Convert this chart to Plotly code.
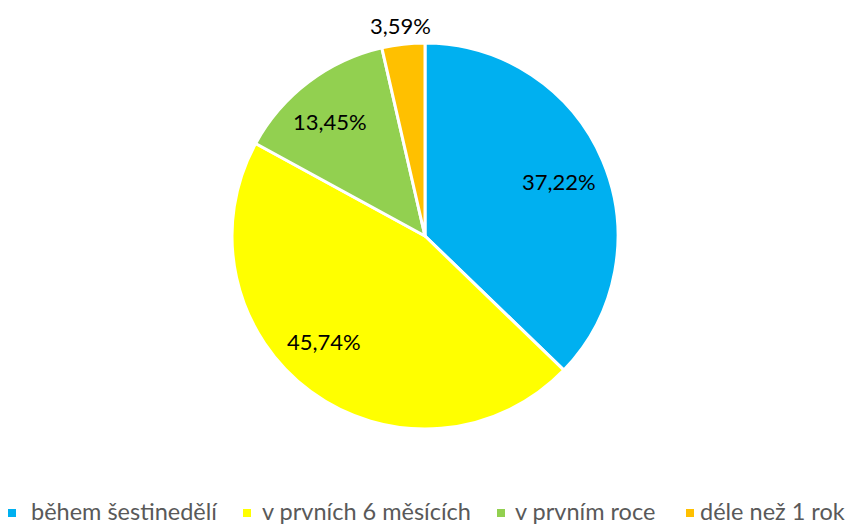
import math
import plotly.graph_objects as go

# Data
categories = ["během šestinedělí", "v prvních 6 měsících", "v prvním roce", "déle než 1 rok"]
values = [37.22, 45.74, 13.45, 3.59]
labels_text = ["37,22%", "45,74%", "13,45%", "3,59%"]
colors = ["#00B0F0", "#FFFF00", "#92D050", "#FFC000"]

# label placement (Excel "best fit"): radius as fraction of R, angular nudge in degrees
label_radius = [0.75, 0.755, 0.775, 1.105]
label_shift = [0.4, 7.7, -2.3, 0.0]

W, H = 854, 527
OFF = 8  # page body margin shifts the figure by 8px
FONT = "Lato, Calibri, sans-serif"

# pie geometry in layout pixels
cx, cy, R = 425 - OFF, 236 - OFF, 193

# Excel-style legend row (window px)
swatch_x = [8, 243, 497, 686]
text_x = [31, 262, 515, 700]
legend_y = 511
SW = 8


def px_to_paper(x, y):
    return x / W, 1 - y / H


fig = go.Figure()
fig.add_trace(go.Pie(
    labels=categories,
    values=values,
    textinfo="none",
    marker=dict(colors=colors, line=dict(color="white", width=3)),
    sort=False,
    direction="clockwise",
    rotation=0,
    domain=dict(x=[(cx - R) / W, (cx + R) / W], y=[(H - cy - R) / H, (H - cy + R) / H]),
    hoverinfo="label+percent",
    showlegend=False,
))

# data labels around the middle angle of each slice
total = sum(values)
cum = 0.0
for v, txt, rf, sh in zip(values, labels_text, label_radius, label_shift):
    mid = (cum + v / 2) / total * 2 * math.pi + math.radians(sh)
    cum += v
    ax, ay = px_to_paper(cx + rf * R * math.sin(mid), cy - rf * R * math.cos(mid) + 1)
    fig.add_annotation(
        x=ax, y=ay, xref="paper", yref="paper",
        xanchor="center", yanchor="middle",
        text=txt, showarrow=False,
        font=dict(family=FONT, size=22, color="black"),
    )

# legend: coloured square + label
for name, col, sx, tx in zip(categories, colors, swatch_x, text_x):
    x0, y0 = px_to_paper(sx - OFF, legend_y + 2 - OFF - SW / 2)
    x1, y1 = px_to_paper(sx - OFF + SW, legend_y + 2 - OFF + SW / 2)
    fig.add_shape(type="rect", xref="paper", yref="paper",
                  x0=x0, x1=x1, y0=y0, y1=y1,
                  fillcolor=col, line=dict(width=0))
    ax, ay = px_to_paper(tx - OFF - 2, legend_y - OFF)
    fig.add_annotation(
        x=ax, y=ay, xref="paper", yref="paper",
        xanchor="left", yanchor="middle",
        text=name, showarrow=False,
        font=dict(family=FONT, size=23.5, color="#595959"),
    )

fig.update_layout(
    width=W,
    height=H,
    autosize=False,
    margin=dict(t=0, b=0, l=0, r=0),
    paper_bgcolor="white",
    plot_bgcolor="white",
    font=dict(family=FONT, size=21, color="#404040"),
    showlegend=False,
)

fig.write_html("out.html")
